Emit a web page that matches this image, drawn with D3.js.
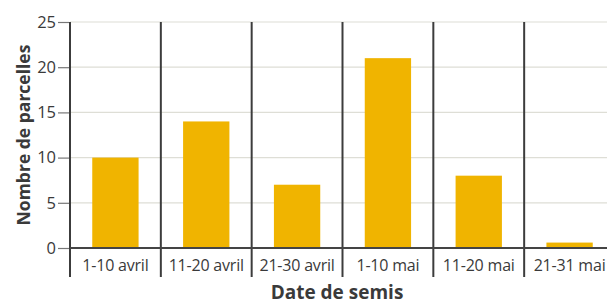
<!DOCTYPE html>
<html>
<head>
<meta charset="utf-8">
<script src="https://cdn.jsdelivr.net/npm/d3@7"></script>
<style>
  body { margin: 0; background: #fff; }
  svg { display: block; font-family: "Open Sans", sans-serif; }
</style>
</head>
<body>
<div id="chart"></div>
<script>
// données
const categories = ["1-10 avril", "11-20 avril", "21-30 avril", "1-10 mai", "11-20 mai", "21-31 mai"];
const values = [10, 14, 7, 21, 8, 0.6];
const yTicks = [0, 5, 10, 15, 20, 25];

const width = 607, height = 306;
const margin = { top: 22, left: 70 };
const plotRight = 615;
const baseY = 248;

const svg = d3.select("#chart").append("svg")
  .attr("width", width)
  .attr("height", height);

const x = d3.scaleBand()
  .domain(categories)
  .range([margin.left, plotRight])
  .paddingInner(0)
  .paddingOuter(0);

const y = d3.scaleLinear()
  .domain([0, 25])
  .range([baseY, margin.top]);

// grille
svg.append("g")
  .selectAll("line")
  .data(yTicks.filter((t) => t > 0))
  .enter()
  .append("line")
  .attr("x1", margin.left)
  .attr("x2", width)
  .attr("y1", (d) => y(d))
  .attr("y2", (d) => y(d))
  .attr("stroke", "#deded6")
  .attr("stroke-width", 1.2);

// barres
const barW = x.bandwidth() * 0.51;
svg.append("g")
  .selectAll("rect")
  .data(values)
  .enter()
  .append("rect")
  .attr("x", (d, i) => x(categories[i]) + (x.bandwidth() - barW) / 2)
  .attr("y", (d) => y(d))
  .attr("width", barW)
  .attr("height", (d) => y(0) - y(d))
  .attr("fill", "#f0b400");

// séparateurs verticaux
svg.append("g")
  .selectAll("line")
  .data(categories)
  .enter()
  .append("line")
  .attr("x1", (d) => x(d))
  .attr("x2", (d) => x(d))
  .attr("y1", margin.top)
  .attr("y2", 277)
  .attr("stroke", "#3c3c3c")
  .attr("stroke-width", 2);

// axe x (ligne de base)
svg.append("line")
  .attr("x1", margin.left)
  .attr("x2", width)
  .attr("y1", baseY)
  .attr("y2", baseY)
  .attr("stroke", "#444")
  .attr("stroke-width", 2);

// axe y
const yAxis = svg.append("g")
  .attr("transform", `translate(${margin.left - 1},0)`)
  .call(d3.axisLeft(y).tickValues(yTicks).tickSize(11).tickPadding(2));
yAxis.select(".domain").remove();
yAxis.selectAll(".tick line").attr("stroke", "#777").attr("stroke-width", 1.2);
yAxis.selectAll(".tick text")
  .attr("fill", "#3a3a3a")
  .style("font-size", "16.5px")
  .style("font-family", "'Open Sans', sans-serif");

// libellés catégories
svg.append("g")
  .selectAll("text")
  .data(categories)
  .enter()
  .append("text")
  .attr("x", (d) => x(d) + x.bandwidth() / 2)
  .attr("y", 271)
  .attr("text-anchor", "middle")
  .attr("fill", "#3a3a3a")
  .style("font-size", "16px")
  .style("letter-spacing", "-0.2px")
  .text((d) => d);

// titres
svg.append("text")
  .attr("x", 337)
  .attr("y", 299)
  .attr("text-anchor", "middle")
  .attr("fill", "#3a3a3a")
  .style("font-size", "19px")
  .style("font-weight", "bold")
  .text("Date de semis");

svg.append("text")
  .attr("transform", "translate(30,135) rotate(-90)")
  .attr("text-anchor", "middle")
  .attr("fill", "#3a3a3a")
  .style("font-size", "17.5px")
  .style("font-weight", "bold")
  .text("Nombre de parcelles");
</script>
</body>
</html>
